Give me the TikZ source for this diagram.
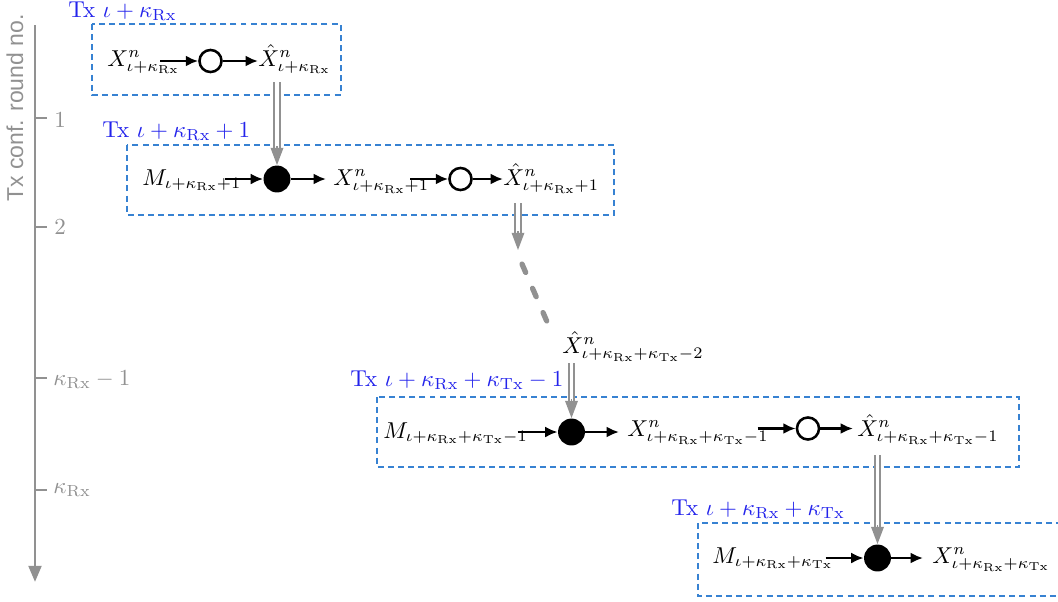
\documentclass[tikz,border=0pt]{standalone}
\usepackage{fontspec}
\newfontfamily\axisfont{Liberation Sans}
\usetikzlibrary{arrows.meta,calc}
\definecolor{boxblue}{RGB}{55,130,210}
\definecolor{titleblue}{RGB}{35,35,235}
\definecolor{axgray}{RGB}{145,145,145}
\begin{document}
\begin{tikzpicture}[x=0.435pt,y=-0.435pt,
  grp/.style={draw=boxblue, line width=0.6pt, dash pattern=on 2.6pt off 1.8pt},
  ttl/.style={text=titleblue, anchor=base west, inner sep=0pt},
  lbl/.style={inner sep=0pt, anchor=base west},
  dotf/.style={circle, fill=black, minimum size=11.7pt, inner sep=0pt},
  doto/.style={circle, draw=black, line width=1.1pt, fill=white, minimum size=9.6pt, inner sep=0pt},
  flow/.style={-{Latex[length=5.4pt,width=4.8pt]}, line width=1.2pt},
  dblline/.style={draw=axgray, double=white, line width=0.75pt, double distance=1.7pt},
  dblhead/.style={draw=axgray, line width=0.6pt, -{Triangle[length=7.5pt,width=5.5pt]}},
  tick/.style={draw=axgray, line width=1.2pt},
  ticklbl/.style={text=axgray, anchor=west, inner sep=0pt}
]
\useasboundingbox (0,0) rectangle (1058,601);
\clip (0,0) rectangle (1058,601);

% axis
\coordinate (axtop) at (35,25);
\coordinate (axbot) at (35,582);
\draw[axgray, line width=1.3pt, -{Triangle[length=7pt,width=5.5pt]}] (axtop) -- (axbot);
\node[rotate=90, text=axgray, inner sep=0pt, font=\axisfont] (axlbl) at (15,108) {Tx conf. round no.};
\coordinate (t1) at (35,118);
\coordinate (t2) at (35,227);
\coordinate (t3) at (35,378);
\coordinate (t4) at (35,490);
\draw[tick] (t1) -- ++(12,0);
\draw[tick] (t2) -- ++(12,0);
\draw[tick] (t3) -- ++(12,0);
\draw[tick] (t4) -- ++(12,0);
\node[ticklbl] (l1) at (54,120) {$1$};
\node[ticklbl] (l2) at (54,227) {$2$};
\node[ticklbl] (l3) at (53,380) {$\kappa_{\mathrm{Rx}}-1$};
\node[ticklbl] (l4) at (53,490) {$\kappa_{\mathrm{Rx}}$};

% box 1
\draw[grp] (92,24) rectangle (341,95);
\node[ttl] (T1) at (68,17) {Tx $\iota+\kappa_{\mathrm{Rx}}$};
\node[lbl] (x1) at (107,66) {$X^n_{\iota+\kappa_{\mathrm{Rx}}}$};
\node[doto] (c1) at (210.5,61) {};
\node[lbl] (xh1) at (258,66) {$\hat{X}^n_{\iota+\kappa_{\mathrm{Rx}}}$};
\draw[flow] ($(c1.west)+(-38,0)$) -- (c1.west);
\draw[flow] (c1.east) -- (xh1.west |- c1.east);

% box 2
\draw[grp] (127,145) rectangle (614,215);
\node[ttl] (T2) at (102,137) {Tx $\iota+\kappa_{\mathrm{Rx}}+1$};
\node[lbl] (m2) at (142,185) {$M_{\iota+\kappa_{\mathrm{Rx}}+1}$};
\node[dotf] (f2) at (277,179) {};
\node[lbl] (x2) at (333,185) {$X^n_{\iota+\kappa_{\mathrm{Rx}}+1}$};
\node[doto] (c2) at (460.5,179) {};
\node[lbl] (xh2) at (503,185) {$\hat{X}^n_{\iota+\kappa_{\mathrm{Rx}}+1}$};
\draw[flow] ($(f2.west)+(-38,0)$) -- (f2.west);
\draw[flow] (f2.east) -- ($(x2.west |- f2.east)+(-7,0)$);
\draw[flow] ($(c2.west)+(-38,0)$) -- (c2.west);
\draw[flow] (c2.east) -- (xh2.west |- c2.east);

% box 3
\draw[grp] (377,397) rectangle (1019,467);
\node[ttl] (T3) at (350,386) {Tx $\iota+\kappa_{\mathrm{Rx}}+\kappa_{\mathrm{Tx}}-1$};
\node[lbl] (m3) at (383,438) {$M_{\iota+\kappa_{\mathrm{Rx}}+\kappa_{\mathrm{Tx}}-1}$};
\node[dotf] (f3) at (571.5,432) {};
\node[lbl] (x3) at (627,436) {$X^n_{\iota+\kappa_{\mathrm{Rx}}+\kappa_{\mathrm{Tx}}-1}$};
\node[doto] (c3) at (808,428.5) {};
\node[lbl] (xh3) at (857,436) {$\hat{X}^n_{\iota+\kappa_{\mathrm{Rx}}+\kappa_{\mathrm{Tx}}-1}$};
\draw[flow] ($(f3.west)+(-40,0)$) -- (f3.west);
\draw[flow] (f3.east) -- ($(x3.west |- f3.east)+(-8,0)$);
\draw[flow] ($(c3.west)+(-38,0)$) -- (c3.west);
\draw[flow] (c3.east) -- ($(xh3.west |- c3.east)+(-4,0)$);

% box 4
\draw[grp] (698,523) rectangle (1080,596);
\node[ttl] (T4) at (671,515) {Tx $\iota+\kappa_{\mathrm{Rx}}+\kappa_{\mathrm{Tx}}$};
\node[lbl] (m4) at (712,563) {$M_{\iota+\kappa_{\mathrm{Rx}}+\kappa_{\mathrm{Tx}}}$};
\node[dotf] (f4) at (877.5,558) {};
\node[lbl] (x4) at (932,563) {$X^n_{\iota+\kappa_{\mathrm{Rx}}+\kappa_{\mathrm{Tx}}}$};
\draw[flow] ($(f4.west)+(-38,0)$) -- (f4.west);
\draw[flow] (f4.east) -- ($(x4.west |- f4.east)+(-9,0)$);

% middle label
\node[lbl] (xm) at (562,353) {$\hat{X}^n_{\iota+\kappa_{\mathrm{Rx}}+\kappa_{\mathrm{Tx}}-2}$};

% double arrows
\draw[dblline] (f2.north |- 0,82) -- ($(f2.north)+(0,-15)$);
\draw[dblhead] ($(f2.north)+(0,-19)$) -- (f2.north);

\coordinate (e2) at (518,250);
\draw[dblline] (518,203) -- ($(e2)+(0,-15)$);
\draw[dblhead] ($(e2)+(0,-19)$) -- (e2);

\coordinate (d1) at (522,264);
\coordinate (d2) at (548,324);
\draw[axgray, line width=2.3pt, line cap=round, dash pattern=on 4pt off 7.5pt] (d1) -- (d2);

\draw[dblline] (f3.north |- 0,363) -- ($(f3.north)+(0,-15)$);
\draw[dblhead] ($(f3.north)+(0,-19)$) -- (f3.north);

\draw[dblline] (f4.north |- 0,455) -- ($(f4.north)+(0,-15)$);
\draw[dblhead] ($(f4.north)+(0,-19)$) -- (f4.north);
\end{tikzpicture}
\end{document}
